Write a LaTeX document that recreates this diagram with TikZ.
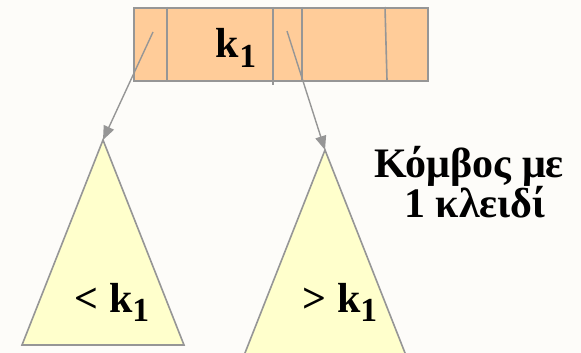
\documentclass[tikz,border=0pt]{standalone}
\usepackage{fontspec}
\setmainfont{Liberation Serif}
\usetikzlibrary{arrows.meta}
\definecolor{bg}{HTML}{FDFCF9}
\definecolor{peach}{HTML}{FFCC99}
\definecolor{paleyellow}{HTML}{FFFFCC}
\definecolor{edge}{HTML}{969696}
\newcommand\subone{\raisebox{-0.22em}{\scalebox{0.8}{1}}}
\tikzset{
  cellline/.style={draw=edge, line width=1.6pt},
  subtree/.style={draw=edge, fill=paleyellow, line width=1.6pt},
  ptr/.style={draw=edge, line width=1.4pt, -{Triangle[length=14pt,width=11pt]}},
  lbl/.style={font=\fontsize{42}{42}\selectfont\bfseries, inner sep=0pt, anchor=base},
}
\begin{document}
\begin{tikzpicture}[x=1pt,y=-1pt]
\fill[bg] (0,0) rectangle (581,353);
\useasboundingbox (0,0) rectangle (581,353);
% node box
\node[cellline, fill=peach, minimum width=294pt, minimum height=73pt, inner sep=0pt, anchor=north west] (box) at (133,7) {};
\draw[cellline] (167,7) -- (167,80);
\draw[cellline] (273,7) -- (273,85);
\draw[cellline] (302,7) -- (302,82);
\draw[cellline] (385,7) -- (387,80);
\node[lbl] (key) at (236,58) {k\subone};
% subtrees
\coordinate (apexL) at (103,140);
\coordinate (apexR) at (325,150);
\path[subtree] (apexL) -- (184,345) -- (22,345) -- cycle;
\path[subtree] (apexR) -- (407,358) -- (243,358) -- cycle;
\node[lbl] (lt) at (112,312) {< k\subone};
\node[lbl] (gt) at (340,312) {> k\subone};
% pointers
\coordinate (p0) at (153,32);
\coordinate (p1) at (287,31);
\draw[ptr] (p0) -- (apexL);
\draw[ptr] (p1) -- (apexR);
% caption
\node[lbl, font=\fontsize{42}{42}\selectfont\bfseries] (cap1) at (469,177) {Κόμβος με};
\node[lbl, font=\fontsize{42}{42}\selectfont\bfseries] (cap2) at (475,217) {1 κλειδί};
\end{tikzpicture}
\end{document}
